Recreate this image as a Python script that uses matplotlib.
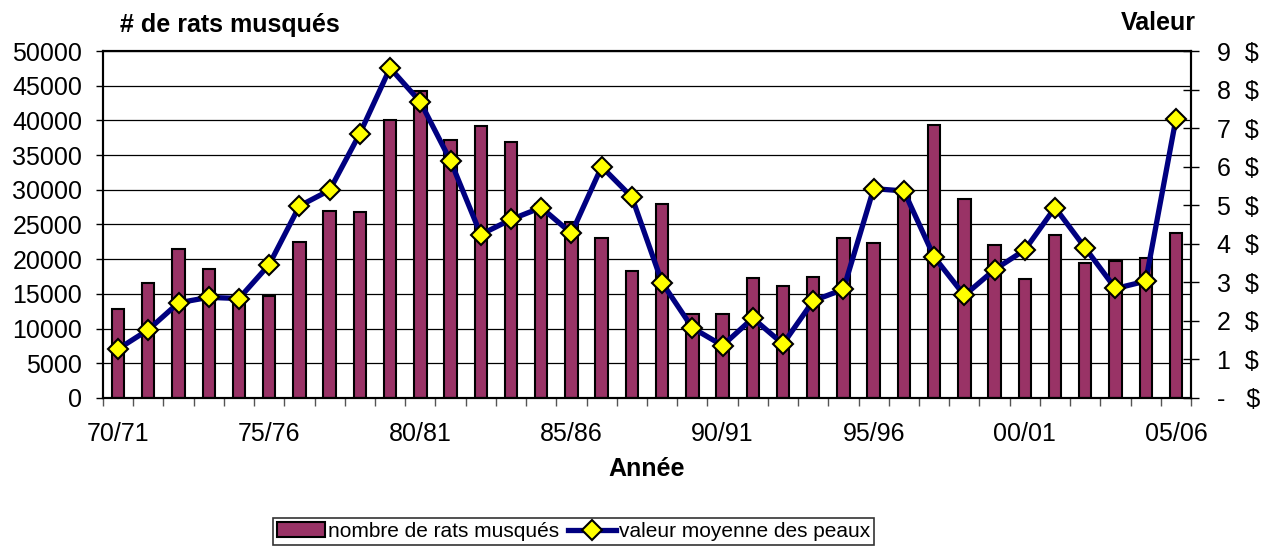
import matplotlib
matplotlib.use("Agg")
from matplotlib import pyplot as plt
from matplotlib.ticker import FuncFormatter, MultipleLocator
import numpy as np

plt.rcParams['font.family'] = ['Liberation Sans', 'DejaVu Sans']

# Data
# ==========================================================================
saisons = ['70/71', '71/72', '72/73', '73/74', '74/75', '75/76', '76/77', '77/78',
           '78/79', '79/80', '80/81', '81/82', '82/83', '83/84', '84/85', '85/86',
           '86/87', '87/88', '88/89', '89/90', '90/91', '91/92', '92/93', '93/94',
           '94/95', '95/96', '96/97', '97/98', '98/99', '99/00', '00/01', '01/02',
           '02/03', '03/04', '04/05', '05/06']
nombre_rats = [12800, 16500, 21500, 18600, 14400, 14700, 22500, 26900,
               26800, 40000, 44200, 37200, 39200, 36900, 28000, 25300,
               23000, 18300, 27900, 12100, 12100, 17300, 16100, 17500,
               23100, 22400, 29500, 39400, 28700, 22100, 17200, 23500,
               19400, 19800, 20200, 23800]
valeur_peaux = [1.27, 1.77, 2.47, 2.61, 2.58, 3.46, 4.98, 5.39,
                6.86, 8.56, 7.68, 6.15, 4.24, 4.63, 4.94, 4.27,
                6.00, 5.21, 2.99, 1.82, 1.36, 2.07, 1.40, 2.52,
                2.82, 5.43, 5.37, 3.66, 2.66, 3.33, 3.84, 4.94,
                3.89, 2.84, 3.03, 7.24]
label_every = 5

# Figure
# ==========================================================================
fs = 18
fig = plt.figure(figsize=(12.68, 5.52), dpi=100)
ax = fig.add_axes([0.0812, 0.279, 0.8581, 0.6286])
x = np.arange(len(saisons))

bars = ax.bar(x, nombre_rats, width=0.41, color='#993366', edgecolor='black',
              linewidth=1.5, label='nombre de rats musqués', zorder=2)
ax.set_xlim(-0.5, len(saisons) - 0.5)
ax.set_ylim(0, 50000)
ax.yaxis.set_major_locator(MultipleLocator(5000))
ax.set_axisbelow(True)
ax.grid(axis='y', color='black', linewidth=0.9)

ax.set_xticks(x[::label_every])
ax.set_xticklabels(saisons[::label_every])
ax.set_xticks(np.arange(len(saisons) + 1) - 0.5, minor=True)
ax.tick_params(axis='x', which='major', length=0, labelsize=fs, pad=17)
ax.tick_params(axis='x', which='minor', length=6, width=1, color='#555555')
ax.tick_params(axis='y', labelsize=fs, length=5, width=1, pad=10)
for s in ax.spines.values():
    s.set_linewidth(1.5)
ax.set_xlabel('Année', fontsize=fs, fontweight='bold', labelpad=8)

ax2 = ax.twinx()
line, = ax2.plot(x, valeur_peaux, color='#000080', linewidth=3.8, marker='D',
                 markersize=10.5, markerfacecolor='#ffff00', markeredgecolor='black',
                 markeredgewidth=1.5, label='valeur moyenne des peaux', zorder=3)
ax2.set_ylim(0, 9)
ax2.yaxis.set_major_locator(MultipleLocator(1))
ax2.yaxis.set_major_formatter(FuncFormatter(
    lambda v, p: f'{int(round(v))}  $' if v > 0.01 else '-   $'))
ax2.tick_params(axis='y', labelsize=fs, length=12, width=1, direction='inout', pad=13)
for s in ax2.spines.values():
    s.set_linewidth(1.5)

fig.text(0.095, 0.955, '# de rats musqués', fontsize=fs, fontweight='bold',
         ha='left', va='center')
fig.text(0.943, 0.958, 'Valeur', fontsize=fs, fontweight='bold',
         ha='right', va='center')

leg = fig.legend([bars, line], ['nombre de rats musqués', 'valeur moyenne des peaux'],
                 loc='center', bbox_to_anchor=(0.4523, 0.037), ncol=2, fontsize=15,
                 frameon=True, fancybox=False, edgecolor='black', handlelength=2.3,
                 handletextpad=0.15, columnspacing=0.4, borderpad=0.2,
                 borderaxespad=0)
leg.get_frame().set_linewidth(1.2)

fig.savefig('out.png', dpi=100)
